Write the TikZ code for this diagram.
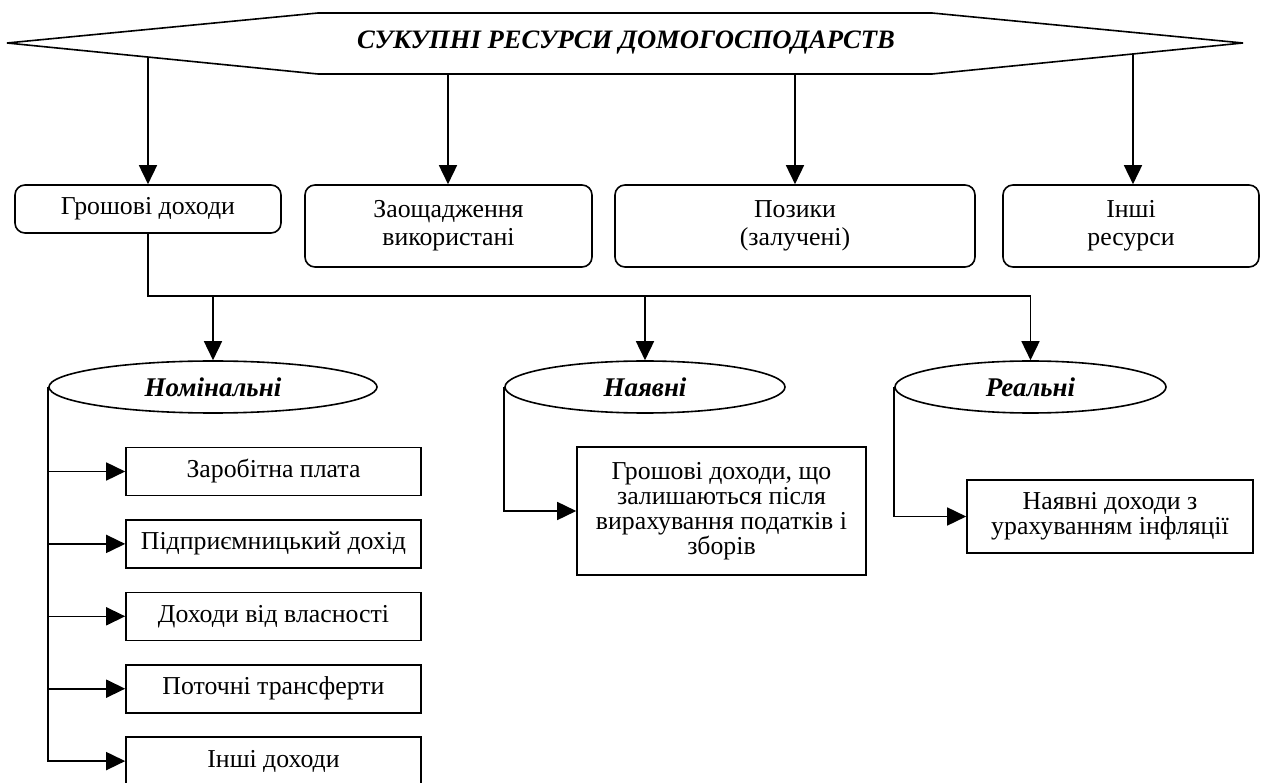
\documentclass[tikz,border=0pt]{standalone}
\usepackage{fontspec}
\setmainfont{Liberation Serif}
\usetikzlibrary{arrows.meta,shapes.geometric}

\begin{document}
\begin{tikzpicture}[x=1pt,y=-1pt]
\tikzset{
  wire/.style={line width=1.6pt},
  arr/.style={wire,-{Triangle[length=19pt,width=18pt]}},
  rbox/.style={draw,wire,rounded corners=10pt,align=center,inner sep=0pt,
    font=\fontsize{25.8}{28}\selectfont},
  sbox/.style={draw,wire,align=center,inner sep=0pt,
    font=\fontsize{25.8}{25}\selectfont},
  oval/.style={draw,wire,ellipse,inner sep=0pt,minimum height=52pt,
    font=\fontsize{27}{29}\selectfont\bfseries\itshape},
}
\useasboundingbox (0,0) rectangle (1262,783);

% banner with the title
\draw[wire] (7,43) -- (318,13) -- (932,13) -- (1243,43) -- (932,74) -- (318,74) -- cycle;
\node (title) at (626,43) {\fontsize{26.6}{29}\selectfont\bfseries\itshape СУКУПНІ РЕСУРСИ ДОМОГОСПОДАРСТВ};
\coordinate (h1) at (148,57);
\coordinate (h2) at (448,74);
\coordinate (h3) at (795,74);
\coordinate (h4) at (1133,54);

% resources
\node[rbox,minimum width=266pt,minimum height=48pt] (b1) at (148,209) {Грошові доходи};
\node[rbox,minimum width=287pt,minimum height=82pt] (b2) at (448.5,226) {Заощадження\\використані};
\node[rbox,minimum width=360pt,minimum height=82pt] (b3) at (795,226) {Позики\\(залучені)};
\node[rbox,minimum width=256pt,minimum height=82pt] (b4) at (1131,226) {Інші\\ресурси};

\draw[arr] (h1) -- (h1 |- b1.north);
\draw[arr] (h2) -- (h2 |- b2.north);
\draw[arr] (h3) -- (h3 |- b3.north);
\draw[arr] (h4) -- (h4 |- b4.north);

% kinds of money income
\node[oval,minimum width=328pt] (e1) at (213,387) {Номінальні};
\node[oval,minimum width=280pt] (e2) at (645,387) {Наявні};
\node[oval,minimum width=271pt] (e3) at (1030.5,387) {Реальні};

\coordinate (bus) at (1030.5,296);
\draw[wire] (b1.south) |- (bus);
\draw[arr] (e1.north |- bus) -- (e1.north);
\draw[arr] (e2.north |- bus) -- (e2.north);
\draw[arr] (bus) -- (e3.north);

% nominal income items
\node[sbox,minimum width=295pt,minimum height=48pt] (n1) at (273.5,471.5) {Заробітна плата};
\node[sbox,minimum width=295pt,minimum height=48pt] (n2) at (273.5,543.9) {Підприємницький дохід};
\node[sbox,minimum width=295pt,minimum height=48pt] (n3) at (273.5,616.3) {Доходи від власності};
\node[sbox,minimum width=295pt,minimum height=48pt] (n4) at (273.5,688.7) {Поточні трансферти};
\node[sbox,minimum width=295pt,minimum height=48pt] (n5) at (273.5,761.1) {Інші доходи};

\draw[arr] (e1.west) |- (n5.west);
\draw[arr] (e1.west |- n1.west) -- (n1.west);
\draw[arr] (e1.west |- n2.west) -- (n2.west);
\draw[arr] (e1.west |- n3.west) -- (n3.west);
\draw[arr] (e1.west |- n4.west) -- (n4.west);

% disposable and real income
\node[sbox,minimum width=289pt,minimum height=128pt] (d1) at (721.5,511)
  {Грошові доходи, що\\залишаються після\\вирахування податків і\\зборів};
\node[sbox,minimum width=286pt,minimum height=73pt] (r1) at (1110,516.5)
  {Наявні доходи з\\урахуванням інфляції};

\draw[arr] (e2.west) |- (d1.west);
\draw[arr] (e3.west) |- (r1.west);
\end{tikzpicture}
\end{document}
